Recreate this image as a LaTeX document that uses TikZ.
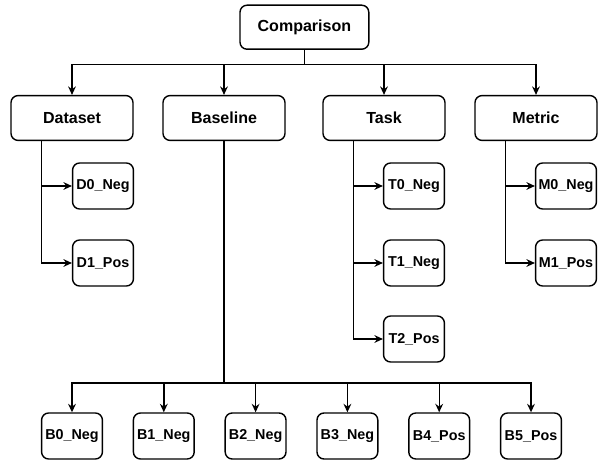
\documentclass[tikz,border=0pt]{standalone}
\usepackage{fontspec}
\setmainfont{Liberation Sans}
\usepackage{tikz}
\usetikzlibrary{arrows.meta,positioning}

\begin{document}
\begin{tikzpicture}[
    cat/.style={rectangle, rounded corners=5pt, draw=black, line width=1pt, fill=white,
                minimum width=3.05cm, minimum height=1.12cm, align=center, font=\fontsize{11.4}{13}\selectfont\bfseries},
    leaf/.style={cat, minimum width=1.52cm, minimum height=1.15cm, inner sep=1pt, font=\fontsize{10.2}{12}\selectfont\bfseries},
    link/.style={line width=1pt, draw=black, -{Stealth[length=6pt,width=5.5pt]}}
  ]
  \useasboundingbox (0,0) rectangle (14.95,-11.5);

  \node[cat, minimum width=3.22cm, minimum height=1.1cm] (cmp) at (7.61,-0.68) {Comparison};

  \node[cat] (dat) at (1.8,-2.95) {Dataset};
  \node[cat] (bas) at (5.6,-2.95) {Baseline};
  \node[cat] (tsk) at (9.6,-2.95) {Task};
  \node[cat] (met) at (13.4,-2.95) {Metric};

  \foreach \n in {dat,bas,tsk,met} {
    \draw[link] (cmp.south) -- ++(0,-0.37) -| (\n.north);
  }

  % leaves on the side
  \node[leaf] (d0) at (2.575,-4.65) {D0\_Neg};
  \node[leaf] (d1) at (2.575,-6.575) {D1\_Pos};
  \node[leaf] (t0) at (10.35,-4.65) {T0\_Neg};
  \node[leaf] (t1) at (10.35,-6.575) {T1\_Neg};
  \node[leaf] (t2) at (10.35,-8.475) {T2\_Pos};
  \node[leaf] (m0) at (14.15,-4.65) {M0\_Neg};
  \node[leaf] (m1) at (14.15,-6.575) {M1\_Pos};

  \foreach \n in {d0,d1} {
    \draw[link] ([xshift=-0.76cm]dat.south) |- (\n.west);
  }
  \foreach \n in {t0,t1,t2} {
    \draw[link] ([xshift=-0.76cm]tsk.south) |- (\n.west);
  }
  \foreach \n in {m0,m1} {
    \draw[link] ([xshift=-0.76cm]met.south) |- (\n.west);
  }

  % baseline row
  \coordinate (busB) at (5.6,-9.575);
  \foreach \i/\s in {0/Neg,1/Neg,2/Neg,3/Neg,4/Pos,5/Pos} {
    \node[leaf] (b\i) at ({1.8+\i*2.295},-10.9) {B\i\_\s};
    \draw[link] (bas.south) -- (busB) -| (b\i.north);
  }
\end{tikzpicture}
\end{document}
